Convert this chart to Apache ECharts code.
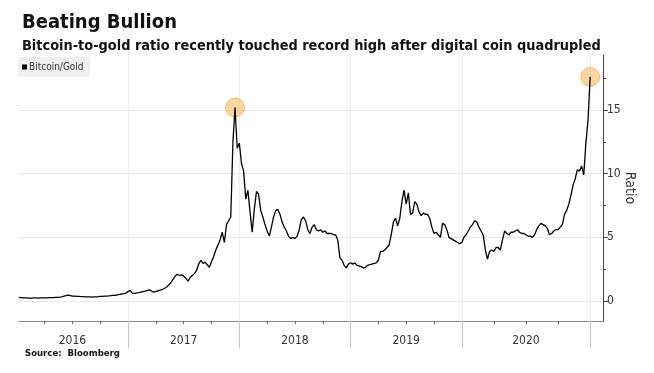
<!DOCTYPE html>
<html><head><meta charset="utf-8">
<script src="https://cdn.jsdelivr.net/npm/echarts@6/dist/echarts.min.js"></script>
<style>html,body{margin:0;padding:0;background:#fff}#c{width:654px;height:373px}</style>
</head><body><div id="c"></div>
<script>
const titleText = 'Beating Bullion';
const subtitleText = 'Bitcoin-to-gold ratio recently touched record high after digital coin quadrupled';
const sourceText = 'Source:  Bloomberg';
const seriesName = 'Bitcoin/Gold';
const axisName = 'Ratio';

// years on the axis and number of observation slots per year
const years = ['2016', '2017', '2018', '2019', '2020', '2021'];
const slotsPerYear = [51, 52, 52, 52, 60, 7];

// Bitcoin / gold ratio, roughly weekly readings
const ratio2016 = [0.29,0.27,0.25,0.24,0.24,0.23,0.23,0.24,0.24,0.23,0.24,
  0.24,0.25,0.25,0.26,0.26,0.27,0.28,0.28,0.30,0.33,
  0.38,0.42,0.47,0.43,0.39,0.38,0.37,0.36,0.35,0.34,
  0.33,0.32,0.32,0.31,0.32,0.33,0.34,0.36,0.37,0.38,
  0.39,0.40,0.42,0.44,0.45,0.48,0.52,0.55,0.58,0.62];
const ratio2017 = [0.75,0.82,0.62,0.60,0.63,0.66,0.70,0.74,0.78,0.84,
  0.88,0.78,0.70,0.75,0.80,0.85,0.90,0.98,1.10,1.25,
  1.45,1.70,1.95,2.10,2.00,2.05,1.95,1.80,1.55,1.85,
  2.00,2.15,2.40,2.90,3.20,2.95,3.05,2.85,2.65,3.10,
  3.50,4.00,4.40,4.80,5.40,4.60,6.00,6.30,6.60,12.5,
  15.2,12.0];
const ratio2018 = [12.4,10.8,10.2,8.0,8.7,7.0,5.4,7.2,8.6,8.4,
  7.1,6.6,6.0,5.5,5.1,5.8,6.6,7.1,7.2,6.8,
  6.2,5.8,5.5,5.1,4.9,5.0,4.9,5.1,5.6,6.4,
  6.6,6.3,5.6,5.3,5.8,6.0,5.6,5.5,5.6,5.4,
  5.5,5.3,5.3,5.3,5.2,5.2,4.8,3.4,3.2,2.8,
  2.6,2.9];
const ratio2019 = [3.0,2.9,3.0,2.8,2.75,2.7,2.6,2.65,2.8,2.85,
  2.9,2.95,3.0,3.2,3.9,3.9,4.0,4.2,4.4,5.2,
  6.2,6.5,5.9,6.5,7.8,8.7,7.6,8.5,6.8,6.9,
  7.8,7.6,7.0,6.7,6.9,6.8,6.8,6.5,5.8,5.3,
  5.4,5.2,5.0,6.1,6.0,5.6,5.0,4.9,4.8,4.7,
  4.6,4.5];
const ratio2020 = [4.6,5.0,5.2,5.5,5.8,6.0,6.3,6.2,5.8,5.5,
  5.2,4.0,3.3,3.9,4.0,3.9,4.2,4.2,4.0,4.8,
  5.5,5.3,5.2,5.4,5.4,5.5,5.6,5.4,5.3,5.3,
  5.2,5.1,5.1,5.0,5.2,5.6,5.9,6.1,6.0,5.9,
  5.7,5.2,5.3,5.5,5.6,5.6,5.8,6.0,6.8,7.1,
  7.6,8.3,9.1,9.6,10.3,10.2,10.6,9.9,12.4,14.2];
const ratio2021 = [17.6];

// record highs are circled: the highest point in each of these year spans
const highlightSpans = [['2016', '2018'], ['2019', '2021']];

const yTickLabels = [0, 5, 10, 15];
const yTicks = [0, 2.5, 5, 7.5, 10, 12.5, 15, 17.5];

// ---- build ----
const values = [].concat(ratio2016, ratio2017, ratio2018, ratio2019, ratio2020, ratio2021);
const categories = [];
const catYear = [];
const yearStart = new Set(), yearMid = new Set(), quarter = new Set();
let idx = 0;
years.forEach((y, k) => {
  const n = slotsPerYear[k];
  const full = k === 0 ? n + 1 : n; // first year starts one slot before the axis
  const off = k === 0 ? -1 : 0;
  if (k > 0) yearStart.add(idx);
  if (n >= 50) yearMid.add(idx + off + Math.round(full / 2));
  if (n >= 50) [1, 2, 3].forEach(q => quarter.add(idx + off + Math.round(full * q / 4)));
  for (let j = 0; j < n; j++) { categories.push(y + '-' + j); catYear.push(y); }
  idx += n;
});

const highlights = highlightSpans.map(([a, b]) => {
  let best = -1;
  values.forEach((v, i) => {
    if (catYear[i] >= a && catYear[i] <= b && (best < 0 || v > values[best])) best = i;
  });
  return [best, values[best]];
});

const fontFam = "'DejaVu Sans Condensed', 'DejaVu Sans', sans-serif";
const yMin = -1.571, yMax = 19.32;

const chart = echarts.init(document.getElementById('c'), null, {renderer: 'canvas'});
chart.setOption({
  animation: false,
  backgroundColor: '#fff',
  textStyle: {fontFamily: fontFam},
  title: [
    {text: titleText, left: 17, top: 8, textStyle: {fontSize: 20, fontWeight: 'bold', color: '#111', fontFamily: fontFam}},
    {text: subtitleText, left: 17, top: 34, textStyle: {fontSize: 14.4, fontWeight: 'bold', color: '#111', fontFamily: fontFam}},
    {text: sourceText, left: 20, top: 344, textStyle: {fontSize: 9.5, fontWeight: 'bold', color: '#111', fontFamily: fontFam}}
  ],
  legend: {
    data: [{name: seriesName, icon: 'rect'}],
    left: 18, top: 57,
    backgroundColor: '#f0f0f0',
    padding: [5, 6, 5, 4],
    itemWidth: 5, itemHeight: 5,
    textStyle: {fontSize: 10, color: '#333', fontFamily: fontFam, padding: [0, 0, 0, -3]}
  },
  grid: {left: 19, right: 51, top: 55, bottom: 52, containLabel: false},
  xAxis: [
    {
      type: 'category', data: categories, boundaryGap: false,
      axisLine: {onZero: false, lineStyle: {color: '#888', width: 1}},
      axisTick: {show: true, inside: false, interval: i => yearStart.has(i), length: 27, lineStyle: {color: '#c4c4c4', width: 1}},
      axisLabel: {interval: i => yearMid.has(i), formatter: v => v.split('-')[0], margin: 14, fontSize: 12, color: '#333', fontFamily: fontFam},
      splitLine: {show: true, interval: i => yearStart.has(i), lineStyle: {color: '#ececec'}}
    },
    {
      type: 'category', data: categories, boundaryGap: false, position: 'bottom',
      axisLine: {show: false, onZero: false},
      axisTick: {show: true, interval: i => quarter.has(i), length: 3, lineStyle: {color: '#666'}},
      axisLabel: {show: false},
      splitLine: {show: false}
    }
  ],
  yAxis: [
    {
      type: 'value', position: 'right', min: yMin, max: yMax,
      axisLine: {show: true, onZero: false, lineStyle: {color: '#444'}},
      axisTick: {show: true, customValues: yTicks, length: 3, lineStyle: {color: '#444'}},
      axisLabel: {customValues: yTickLabels, fontSize: 12, color: '#333', margin: 4, fontFamily: fontFam},
      splitLine: {show: false},
      name: axisName, nameLocation: 'middle', nameRotate: -90, nameGap: 20, nameMoveOverlap: false,
      nameTextStyle: {fontSize: 14, color: '#333', fontFamily: fontFam}
    },
    {
      type: 'value', position: 'right', min: yMin, max: yMax,
      axisLine: {show: false, onZero: false},
      axisTick: {show: true, customValues: yTickLabels, length: 5, lineStyle: {color: '#444'}},
      axisLabel: {show: false},
      splitLine: {show: true, lineStyle: {color: '#e8e8e8'}}
    }
  ],
  series: [
    {
      name: seriesName, type: 'line', data: values, xAxisIndex: 0, yAxisIndex: 0,
      showSymbol: false, symbol: 'none', z: 3,
      lineStyle: {color: '#000', width: 1.3}, itemStyle: {color: '#000'}
    },
    {
      name: 'record', type: 'scatter', data: highlights, xAxisIndex: 0, yAxisIndex: 0,
      symbolSize: 19, z: 2, silent: true,
      itemStyle: {color: 'rgba(247,170,60,0.6)', borderColor: 'rgba(240,150,40,0.7)', borderWidth: 1}
    }
  ]
});
</script></body></html>
